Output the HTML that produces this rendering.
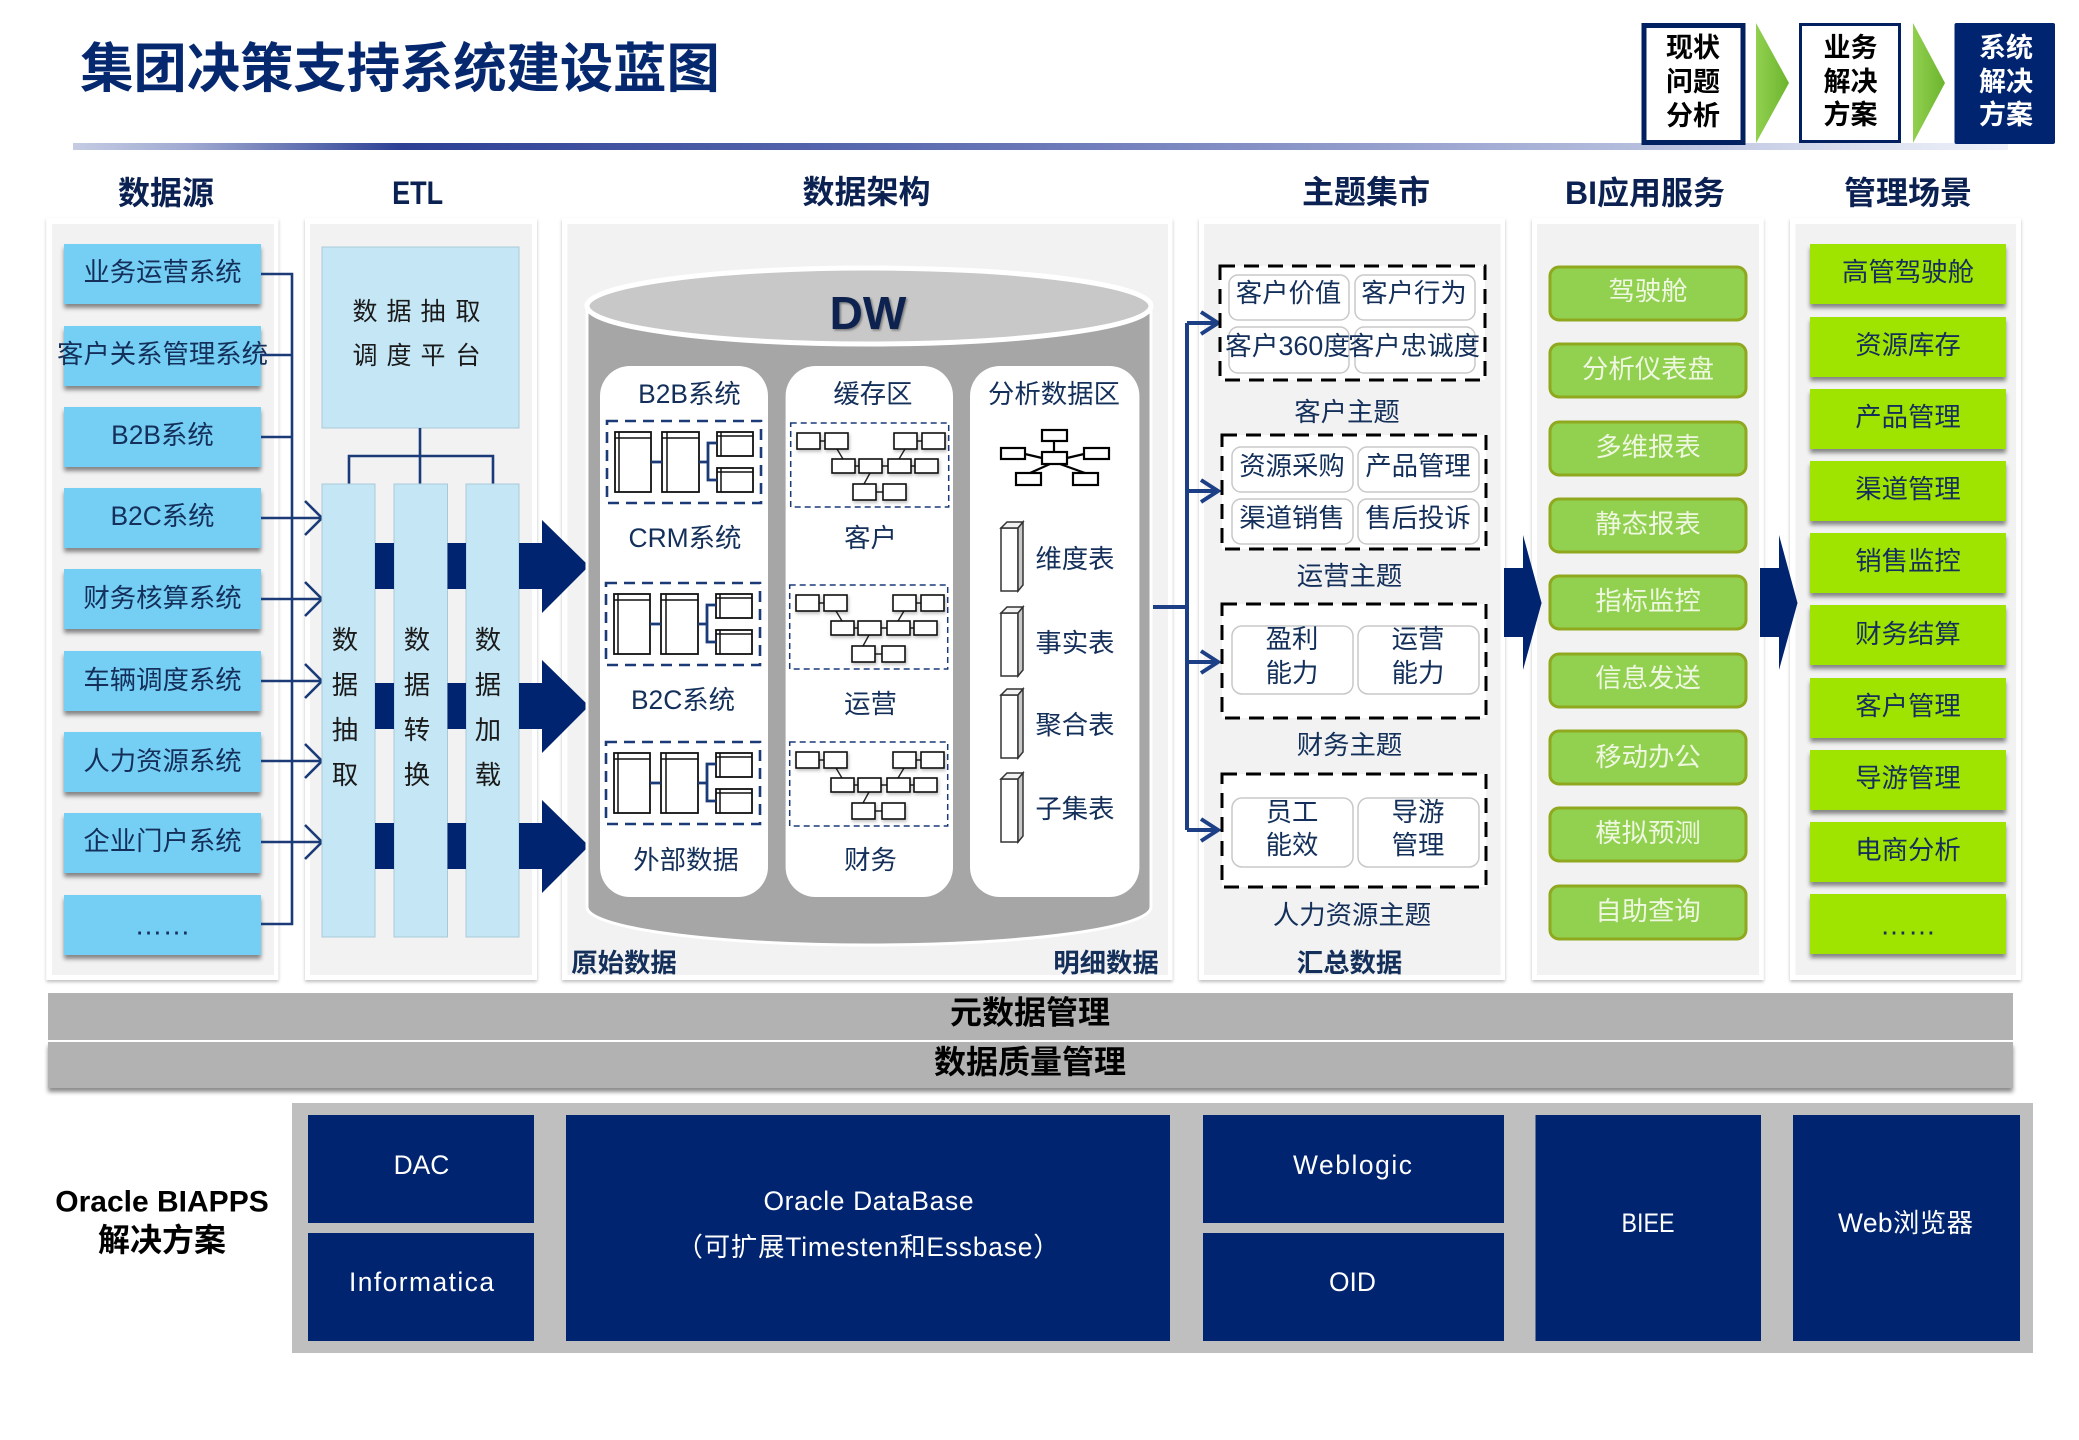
<!DOCTYPE html>
<html lang="zh">
<head>
<meta charset="utf-8">
<title>集团决策支持系统建设蓝图</title>
<style>
html,body{margin:0;padding:0;background:#fff;width:2079px;height:1440px;overflow:hidden}
svg{display:block}
text{font-family:"Liberation Sans","Noto Sans CJK SC",sans-serif;dominant-baseline:central;text-anchor:middle;font-size:26.4px;fill:#14305a}
.h{font-size:32px;font-weight:bold;fill:#0b2152}
.b{font-weight:bold}
.k{fill:#1a1a1a}
.w{fill:#fff}
.g{fill:#eef7df}
.tab rect{fill:#fff;stroke:#111;stroke-width:1.8}
.tab path.i{fill:none;stroke:#111;stroke-width:1.5}
.tab path.c{fill:none;stroke:#1a3a78;stroke-width:2.8}
.er rect.e{fill:#fff;stroke:#111;stroke-width:1.6}
.er path{fill:none;stroke:#222;stroke-width:1.4}
.p{fill:#fff;stroke:#c8c8c8;stroke-width:1.5}
.d{fill:#fff;stroke:#000;stroke-width:3;stroke-dasharray:15 9}
.l{fill:none;stroke:#1a3a78;stroke-width:2.6}
.a{fill:none;stroke:#1d3f86;stroke-width:4}
.n{fill:#00246f}
</style>
</head>
<body>
<svg xmlns="http://www.w3.org/2000/svg" width="2079" height="1440" viewBox="0 0 2079 1440">
<defs>
<linearGradient id="bar" x1="0" x2="1" y1="0" y2="0">
<stop offset="0" stop-color="#c5cce3"/>
<stop offset=".06" stop-color="#9fa9d1"/>
<stop offset=".17" stop-color="#2b3f94"/>
<stop offset=".5" stop-color="#6a78b8"/>
<stop offset=".82" stop-color="#b8c0de"/>
<stop offset=".94" stop-color="#dfe4f2"/>
<stop offset="1" stop-color="#eef1f9"/>
</linearGradient>
<linearGradient id="gr" x1="0" x2="1" y1="0" y2="0">
<stop offset="0" stop-color="#92d050"/>
<stop offset="1" stop-color="#6cb52e"/>
</linearGradient>
<filter id="s" x="-10%" y="-20%" width="120%" height="150%"><feDropShadow dx="0" dy="4" stdDeviation="2.2" flood-color="#000" flood-opacity=".45"/></filter>
<filter id="ps" x="-5%" y="-5%" width="110%" height="110%"><feDropShadow dx="0" dy="2" stdDeviation="1.6" flood-color="#000" flood-opacity=".25"/></filter>
<filter id="es" x="-20%" y="-20%" width="140%" height="140%"><feDropShadow dx="1" dy="2" stdDeviation="1.5" flood-color="#000" flood-opacity=".25"/></filter>
<filter id="ts" x="-20%" y="-20%" width="140%" height="140%"><feDropShadow dx="1.5" dy="1.5" stdDeviation="1" flood-color="#000" flood-opacity=".4"/></filter>
<g id="tab" class="tab">
<rect x="607" y="421" width="154" height="82" style="fill:none;stroke:#1a3a78;stroke-width:2.6;stroke-dasharray:11 7"/>
<rect x="615" y="432" width="36" height="60"/><path class="i" d="M615 438H651M619 432V492"/>
<rect x="662" y="432" width="37" height="60"/><path class="i" d="M662 438H699M667 432V492"/>
<rect x="717" y="432" width="36" height="24"/><path class="i" d="M717 436H753M721 432V456"/>
<rect x="717" y="468" width="36" height="24"/><path class="i" d="M717 472H753M721 468V492"/>
<path class="c" d="M651 462H662M699 462H708M717 443H708V480H717"/>
</g>
<g id="er" class="er">
<rect x="790.7" y="423" width="158" height="84" style="fill:none;stroke:#1a3a78;stroke-width:1.5;stroke-dasharray:6 4"/>
<path d="M820 441H825M917 441H922M855 466H859M882 466H888M911 466H915M876 492H883M837 449L843 459M905 449L899 459M870 473L864 484"/>
<g filter="url(#es)">
<rect class="e" x="797" y="433" width="23" height="16"/><rect class="e" x="825" y="433" width="23" height="16"/>
<rect class="e" x="894" y="433" width="23" height="16"/><rect class="e" x="922" y="433" width="23" height="16"/>
<rect class="e" x="832" y="459" width="23" height="14"/><rect class="e" x="859" y="459" width="23" height="14"/>
<rect class="e" x="888" y="459" width="23" height="14"/><rect class="e" x="915" y="459" width="23" height="14"/>
<rect class="e" x="853" y="484" width="23" height="16"/><rect class="e" x="883" y="484" width="23" height="16"/>
</g>
</g>
<g id="bar3">
<rect x="1001" y="0" width="17" height="63" fill="#fff" stroke="#333" stroke-width="1.5"/>
<path d="M1001 0L1007 -6H1023L1018 0Z" fill="#f2f2f2" stroke="#333" stroke-width="1.5"/>
<path d="M1018 0L1023 -6V57L1018 63Z" fill="#c8c8c8" stroke="#333" stroke-width="1.5"/>
</g>
</defs>

<rect width="2079" height="1440" fill="#fff"/>

<!-- title -->
<text x="400" y="69.500" class="b" style="font-size:53.300px;fill:#05286f">集团决策支持系统建设蓝图</text>
<rect x="73" y="143" width="1935" height="7" fill="url(#bar)"/>

<!-- top right -->
<rect x="1644" y="25.500" width="99" height="117" fill="#fff" stroke="#00205f" stroke-width="5"/>
<rect x="1800.500" y="24.500" width="99" height="117" fill="#fff" stroke="#00205f" stroke-width="3"/>
<rect x="1954.500" y="23" width="100.500" height="121" fill="#00246f" rx="2"/>
<path d="M1756 23L1789 83L1756 143Z" fill="url(#gr)"/>
<path d="M1913 23L1945 83L1913 143Z" fill="url(#gr)"/>
<g>
<text class="b" x="1693" y="48" style="font-size:27px;fill:#000">现状</text>
<text class="b" x="1693" y="82" style="font-size:27px;fill:#000">问题</text>
<text class="b" x="1693" y="116" style="font-size:27px;fill:#000">分析</text>
<text class="b" x="1850.500" y="48" style="font-size:27px;fill:#000">业务</text>
<text class="b" x="1850.500" y="82" style="font-size:27px;fill:#000">解决</text>
<text class="b" x="1850.500" y="115" style="font-size:27px;fill:#000">方案</text>
<text class="b" x="2006" y="48" style="font-size:27px;fill:#fff">系统</text>
<text class="b" x="2006" y="82" style="font-size:27px;fill:#fff">解决</text>
<text class="b" x="2006" y="115" style="font-size:27px;fill:#fff">方案</text>
</g>

<!-- headers -->
<text class="h" x="166" y="193">数据源</text>
<text class="h" x="417.600" y="193" textLength="51" lengthAdjust="spacingAndGlyphs">ETL</text>
<text class="h" x="866.500" y="192">数据架构</text>
<text class="h" x="1366" y="192">主题集市</text>
<text class="h" x="1645" y="193">BI应用服务</text>
<text class="h" x="1908" y="193">管理场景</text>

<!-- panels -->
<g filter="url(#ps)" fill="#fff">
<rect x="46.400" y="218" width="232" height="762"/>
<rect x="305" y="218" width="232" height="762"/>
<rect x="562" y="218" width="610.500" height="762"/>
<rect x="1199" y="218" width="306" height="762"/>
<rect x="1532" y="218" width="231.600" height="762"/>
<rect x="1790" y="218" width="231" height="762"/>
</g>
<g fill="#f2f2f2">
<rect x="52" y="224" width="222" height="751"/>
<rect x="310" y="224" width="222" height="751"/>
<rect x="567.500" y="224" width="600.500" height="751"/>
<rect x="1204" y="224" width="296.500" height="751"/>
<rect x="1537" y="224" width="222" height="751"/>
<rect x="1795.500" y="224" width="220.500" height="751"/>
</g>

<!-- sources -->
<g fill="#75cff5" filter="url(#s)">
<rect x="64" y="244" width="197" height="60"/>
<rect x="64" y="326" width="197" height="60"/>
<rect x="64" y="407" width="197" height="60"/>
<rect x="64" y="488" width="197" height="60"/>
<rect x="64" y="569" width="197" height="60"/>
<rect x="64" y="651" width="197" height="60"/>
<rect x="64" y="732" width="197" height="60"/>
<rect x="64" y="813" width="197" height="60"/>
<rect x="64" y="895" width="197" height="60"/>
</g>
<text x="162.500" y="272">业务运营系统</text>
<text x="162.500" y="354">客户关系管理系统</text>
<text x="162.500" y="435">B2B系统</text>
<text x="162.500" y="516">B2C系统</text>
<text x="162.500" y="598">财务核算系统</text>
<text x="162.500" y="680">车辆调度系统</text>
<text x="162.500" y="761">人力资源系统</text>
<text x="162.500" y="841">企业门户系统</text>
<text x="162.500" y="925" style="font-size:28px">……</text>

<!-- source connectors -->
<path class="l" d="M261 274H292V924H261M261 355H292M261 437H292"/>
<path class="l" d="M261 518H322M305 501L322 518L305 535M261 599H322M305 582L322 599L305 616M261 681H322M305 664L322 681L305 698M261 761H322M305 744L322 761L305 778M261 842H322M305 825L322 842L305 859"/>

<!-- ETL -->
<rect x="322" y="247" width="197" height="181" fill="#c5e6f5" stroke="#a9c9d6"/>
<text class="k" x="365 399 433 468" y="312" style="font-size:25px">数据抽取</text>
<text class="k" x="365 399 433 468" y="356" style="font-size:25px">调度平台</text>
<path class="l" d="M420 428V484M349 484V456H493V484"/>
<g fill="#c5e6f5" stroke="#a9c9d6">
<rect x="322" y="484" width="53" height="453"/>
<rect x="394" y="484" width="53.500" height="453"/>
<rect x="466" y="484" width="53" height="453"/>
</g>
<g class="n">
<rect x="375" y="543" width="19" height="46"/><rect x="447.500" y="543" width="18.500" height="46"/>
<rect x="375" y="683" width="19" height="46"/><rect x="447.500" y="683" width="18.500" height="46"/>
<rect x="375" y="823" width="19" height="46"/><rect x="447.500" y="823" width="18.500" height="46"/>
<path d="M519 543H542V520L589 566L542 613V589H519Z"/>
<path d="M519 683H542V660L589 706L542 753V729H519Z"/>
<path d="M519 823H542V800L589 846L542 893V869H519Z"/>
</g>
<text class="k" x="345" y="640">数</text><text class="k" x="345" y="685">据</text><text class="k" x="345" y="730">抽</text><text class="k" x="345" y="775">取</text>
<text class="k" x="417" y="640">数</text><text class="k" x="417" y="685">据</text><text class="k" x="417" y="730">转</text><text class="k" x="417" y="775">换</text>
<text class="k" x="488" y="640">数</text><text class="k" x="488" y="685">据</text><text class="k" x="488" y="730">加</text><text class="k" x="488" y="775">载</text>

<!-- cylinder -->
<path d="M587 306V907A282 38 0 0 0 1151 907V306Z" fill="#a6a6a6" stroke="#fff" stroke-width="3"/>
<ellipse cx="869" cy="306" rx="282" ry="38" fill="#c8c8c8" stroke="#fff" stroke-width="5"/>
<text class="b" x="868" y="313" filter="url(#ts)" style="font-size:46px;fill:#0f2350">DW</text>
<g fill="#fff">
<rect x="600" y="366" width="168" height="531" rx="30"/>
<rect x="785.600" y="366" width="167.400" height="531" rx="30"/>
<rect x="970" y="366" width="169.400" height="531" rx="30"/>
</g>
<text x="689.500" y="394">B2B系统</text>
<text x="685" y="538">CRM系统</text>
<text x="683" y="700">B2C系统</text>
<text x="686" y="860">外部数据</text>
<text x="873" y="394">缓存区</text>
<text x="870.500" y="538">客户</text>
<text x="870.500" y="704">运营</text>
<text x="870.500" y="860">财务</text>
<text x="1054" y="394">分析数据区</text>
<use href="#tab"/>
<use href="#tab" transform="translate(-1,162)"/>
<use href="#tab" transform="translate(-1,321)"/>
<use href="#er"/>
<use href="#er" transform="translate(-1,162)"/>
<use href="#er" transform="translate(-1,319)"/>

<!-- star -->
<g fill="#fff" stroke="#000" stroke-width="2.200">
<path d="M1054 441V452M1025 454L1042 458M1067 458L1084 454M1050 464L1030 473M1060 464L1085 473" fill="none"/>
<rect x="1042" y="430" width="25" height="11"/>
<rect x="1001" y="448" width="24" height="11"/>
<rect x="1084" y="448" width="25" height="11"/>
<rect x="1042" y="452" width="25" height="12"/>
<rect x="1016" y="473" width="25" height="12"/>
<rect x="1073" y="473" width="25" height="12"/>
</g>
<use href="#bar3" transform="translate(0,528)"/>
<use href="#bar3" transform="translate(0,613)"/>
<use href="#bar3" transform="translate(0,695)"/>
<use href="#bar3" transform="translate(0,779)"/>
<text x="1075" y="559">维度表</text>
<text x="1075" y="643">事实表</text>
<text x="1075" y="725">聚合表</text>
<text x="1075" y="809">子集表</text>
<text class="b" x="624" y="963">原始数据</text>
<text class="b" x="1106" y="963">明细数据</text>

<!-- DW to marts -->
<path class="a" d="M1153 607H1187M1187 323V830M1187 323H1217M1187 491H1217M1187 662H1217M1187 830H1217"/>
<path class="a" d="M1201 312L1218 323L1201 334M1201 480L1218 491L1201 502M1201 651L1218 662L1201 673M1201 819L1218 830L1201 841"/>

<!-- marts -->
<rect class="d" x="1220" y="266" width="265" height="114"/>
<rect class="d" x="1222" y="435" width="264" height="114"/>
<rect class="d" x="1222" y="604" width="264" height="114"/>
<rect class="d" x="1222" y="774" width="264" height="113"/>
<rect class="p" x="1229" y="275" width="120" height="45" rx="9"/><rect class="p" x="1355" y="275" width="120" height="45" rx="9"/>
<rect class="p" x="1229" y="327" width="120" height="46" rx="9"/><rect class="p" x="1355" y="327" width="120" height="46" rx="9"/>
<rect class="p" x="1232" y="447" width="121" height="45" rx="9"/><rect class="p" x="1358" y="447" width="121" height="45" rx="9"/>
<rect class="p" x="1232" y="499" width="121" height="45" rx="9"/><rect class="p" x="1358" y="499" width="121" height="45" rx="9"/>
<rect class="p" x="1232" y="626" width="121" height="68" rx="10"/><rect class="p" x="1358" y="626" width="121" height="68" rx="10"/>
<rect class="p" x="1232" y="798" width="121" height="69" rx="10"/><rect class="p" x="1358" y="798" width="121" height="69" rx="10"/>
<text x="1288.500" y="293">客户价值</text><text x="1414" y="293">客户行为</text>
<text x="1287.500" y="346" textLength="125" lengthAdjust="spacingAndGlyphs">客户360度</text><text x="1414" y="346">客户忠诚度</text>
<text x="1292" y="466">资源采购</text><text x="1418" y="466">产品管理</text>
<text x="1292" y="518">渠道销售</text><text x="1418" y="518">售后投诉</text>
<text x="1292" y="639">盈利</text><text x="1292" y="673">能力</text>
<text x="1418" y="639">运营</text><text x="1418" y="673">能力</text>
<text x="1292" y="812">员工</text><text x="1292" y="845">能效</text>
<text x="1418" y="812">导游</text><text x="1418" y="845">管理</text>
<text x="1347" y="412">客户主题</text>
<text x="1349.500" y="576">运营主题</text>
<text x="1349.500" y="745">财务主题</text>
<text x="1352" y="915">人力资源主题</text>
<text class="b" x="1349.500" y="963">汇总数据</text>

<!-- big arrows to BI -->
<path class="n" d="M1504 568H1523V535L1541.600 603L1523 670V637H1504Z"/>
<path class="n" d="M1760 568H1779V535L1797.500 603L1779 670V637H1760Z"/>

<!-- BI -->
<g fill="#92d050" stroke="#8fa81e" stroke-width="3">
<rect x="1550" y="267" width="196" height="53" rx="9"/>
<rect x="1550" y="344" width="196" height="53" rx="9"/>
<rect x="1550" y="422" width="196" height="53" rx="9"/>
<rect x="1550" y="499" width="196" height="53" rx="9"/>
<rect x="1550" y="576" width="196" height="53" rx="9"/>
<rect x="1550" y="654" width="196" height="53" rx="9"/>
<rect x="1550" y="731" width="196" height="53" rx="9"/>
<rect x="1550" y="808" width="196" height="53" rx="9"/>
<rect x="1550" y="886" width="196" height="53" rx="9"/>
</g>
<text class="g" x="1648" y="291">驾驶舱</text>
<text class="g" x="1648" y="369">分析仪表盘</text>
<text class="g" x="1648" y="447">多维报表</text>
<text class="g" x="1648" y="524">静态报表</text>
<text class="g" x="1648" y="601">指标监控</text>
<text class="g" x="1648" y="678">信息发送</text>
<text class="g" x="1648" y="757">移动办公</text>
<text class="g" x="1648" y="833">模拟预测</text>
<text class="g" x="1648" y="911">自助查询</text>

<!-- management -->
<g fill="#9fe405" filter="url(#s)">
<rect x="1810" y="244" width="196" height="60"/>
<rect x="1810" y="317" width="196" height="60"/>
<rect x="1810" y="389" width="196" height="60"/>
<rect x="1810" y="461" width="196" height="60"/>
<rect x="1810" y="533" width="196" height="60"/>
<rect x="1810" y="605" width="196" height="60"/>
<rect x="1810" y="678" width="196" height="60"/>
<rect x="1810" y="750" width="196" height="60"/>
<rect x="1810" y="822" width="196" height="60"/>
<rect x="1810" y="894" width="196" height="60"/>
</g>
<text x="1908" y="272">高管驾驶舱</text>
<text x="1908" y="345">资源库存</text>
<text x="1908" y="417">产品管理</text>
<text x="1908" y="489">渠道管理</text>
<text x="1908" y="561">销售监控</text>
<text x="1908" y="634">财务结算</text>
<text x="1908" y="706">客户管理</text>
<text x="1908" y="778">导游管理</text>
<text x="1908" y="850">电商分析</text>
<text x="1908" y="925" style="font-size:28px">……</text>

<!-- management bars -->
<rect x="48" y="993" width="1965" height="47" fill="#b2b2b2"/>
<rect x="48" y="1042" width="1965" height="46" fill="#b2b2b2" filter="url(#s)"/>
<text class="b" x="1030" y="1012.500" style="font-size:32px;fill:#000">元数据管理</text>
<text class="b" x="1030" y="1062" style="font-size:32px;fill:#000">数据质量管理</text>

<!-- bottom -->
<rect x="292" y="1103" width="1741" height="250" fill="#bfbfbf"/>
<g class="n">
<rect x="308" y="1115" width="226" height="108"/>
<rect x="308" y="1233" width="226" height="108"/>
<rect x="566" y="1115" width="604" height="226"/>
<rect x="1203" y="1115" width="301" height="108"/>
<rect x="1203" y="1233" width="301" height="108"/>
<rect x="1535.500" y="1115" width="225.500" height="226"/>
<rect x="1793" y="1115" width="227" height="226"/>
</g>
<text class="w" x="421.500" y="1165">DAC</text>
<text class="w" x="421.500" y="1282" textLength="145" lengthAdjust="spacing">Informatica</text>
<text class="w" x="868.500" y="1201" textLength="210" lengthAdjust="spacing">Oracle DataBase</text>
<text class="w" x="868.500" y="1247" style="letter-spacing:.8px">（可扩展Timesten和Essbase）</text>
<text class="w" x="1352.500" y="1165" textLength="119" lengthAdjust="spacing">Weblogic</text>
<text class="w" x="1352.500" y="1282">OID</text>
<text class="w" x="1648" y="1223" textLength="53" lengthAdjust="spacingAndGlyphs">BIEE</text>
<text class="w" x="1905.500" y="1223" textLength="135" lengthAdjust="spacing">Web浏览器</text>
<text class="b" x="162" y="1202" style="font-size:30px;fill:#000">Oracle BIAPPS</text>
<text class="b" x="162" y="1240" style="font-size:32px;fill:#000">解决方案</text>
</svg>
</body>
</html>
